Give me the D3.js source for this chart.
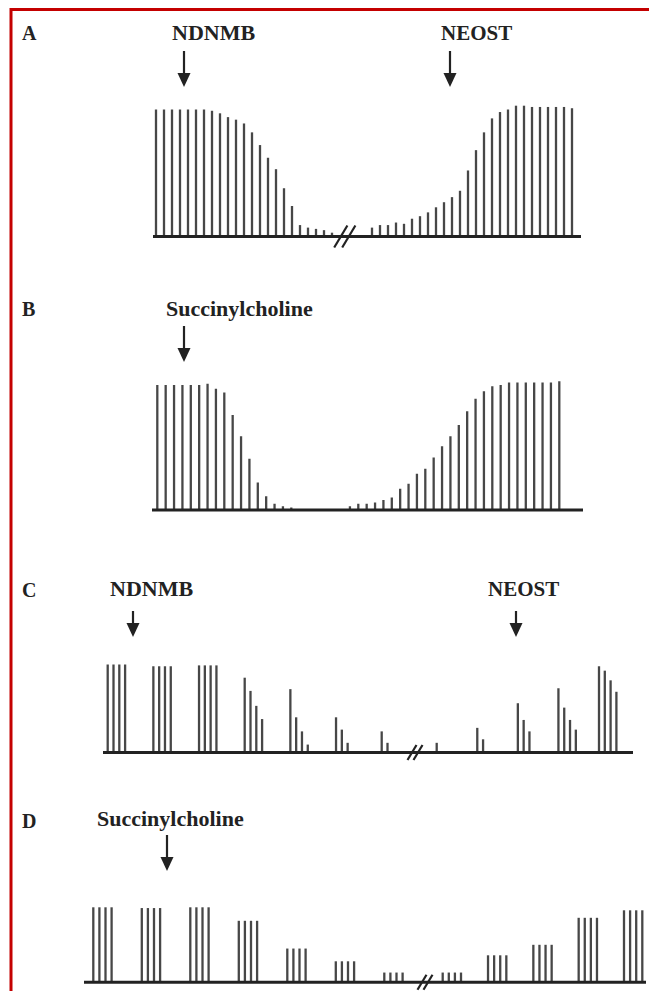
<!DOCTYPE html>
<html>
<head>
<meta charset="utf-8">
<script src="https://cdn.jsdelivr.net/npm/d3@7"></script>
<style>
  body { margin: 0; background: #fff; }
  svg { display: block; }
  text { font-family: "Liberation Serif", "Times New Roman", serif; font-weight: bold; fill: #222; }
</style>
</head>
<body>
<svg id="fig" width="649" height="991"></svg>
<script>
// A: single twitch, NDNMB block then NEOST reversal (fraction of control)
const aBefore = [1, 1, 1, 1, 1, 1, 1, 0.99, 0.97, 0.94, 0.92, 0.89, 0.82, 0.72, 0.62, 0.53, 0.38, 0.24, 0.09, 0.07, 0.06, 0.05, 0.03];
const aGap = 4;
const aAfter = [0.07, 0.09, 0.09, 0.11, 0.10, 0.14, 0.16, 0.19, 0.23, 0.27, 0.31, 0.36, 0.52, 0.68, 0.82, 0.93, 0.98, 1.0, 1.03, 1.03, 1.02, 1.02, 1.02, 1.02, 1.02, 1.01];

// B: single twitch, succinylcholine
const bBefore = [1, 1, 1, 1, 1, 1, 1.01, 0.97, 0.94, 0.76, 0.59, 0.41, 0.22, 0.11, 0.05, 0.03, 0.02];
const bGap = 6;
const bAfter = [0.03, 0.05, 0.05, 0.06, 0.08, 0.10, 0.17, 0.21, 0.29, 0.33, 0.42, 0.51, 0.59, 0.68, 0.79, 0.89, 0.95, 0.99, 1.0, 1.02, 1.02, 1.02, 1.02, 1.02, 1.02, 1.03];

// C: train-of-four, NDNMB then NEOST (fade)
const cBefore = [
  [1, 1, 1, 1], [0.98, 0.98, 0.98, 0.98], [0.99, 0.99, 0.99, 0.99],
  [0.85, 0.70, 0.53, 0.38], [0.72, 0.40, 0.24, 0.09], [0.40, 0.26, 0.11, 0], [0.24, 0.11, 0, 0]
];
const cAfter = [
  [0.11, 0, 0, 0], [0.28, 0.15, 0, 0], [0.56, 0.37, 0.24, 0], [0.73, 0.51, 0.37, 0.26], [0.98, 0.93, 0.82, 0.69]
];

// D: train-of-four, succinylcholine (no fade)
const dBefore = [1.0, 0.99, 1.0, 0.82, 0.45, 0.28, 0.13];
const dAfter = [0.13, 0.36, 0.50, 0.86, 0.96];

const svg = d3.select("#fig");
const ink = "#222";
const barColor = "#474747";

svg.append("rect").attr("width", 649).attr("height", 991).attr("fill", "#fff");
svg.append("path")
  .attr("d", "M11,991V9.5H649")
  .attr("fill", "none")
  .attr("stroke", "#c40000")
  .attr("stroke-width", 3);

function baseline(x0, x1, y) {
  svg.append("line")
    .attr("x1", x0).attr("x2", x1).attr("y1", y).attr("y2", y)
    .attr("stroke", ink).attr("stroke-width", 3);
}

function breakMark(x, y, h, sep) {
  [-sep, sep].forEach(dx => {
    svg.append("line")
      .attr("x1", x + dx - h * 0.3).attr("y1", y + h / 2)
      .attr("x2", x + dx + h * 0.3).attr("y2", y - h / 2)
      .attr("stroke", ink).attr("stroke-width", 2.2);
  });
}

function arrow(x, y1, y2) {
  svg.append("line")
    .attr("x1", x).attr("x2", x).attr("y1", y1).attr("y2", y2 - 12)
    .attr("stroke", ink).attr("stroke-width", 2.2);
  svg.append("path")
    .attr("d", `M${x - 6.5},${y2 - 14}L${x + 6.5},${y2 - 14}L${x},${y2}Z`)
    .attr("fill", ink);
}

function label(txt, x, y, size) {
  svg.append("text").attr("x", x).attr("y", y)
    .style("font-size", size + "px").text(txt);
}

function bars(data, x, y) {
  svg.append("g").selectAll("line")
    .data(data.filter(d => d.v > 0))
    .join("line")
    .attr("x1", d => x(d.i)).attr("x2", d => x(d.i))
    .attr("y1", y(0)).attr("y2", d => y(d.v))
    .attr("stroke", barColor).attr("stroke-width", 2.3);
}

// single twitch panel
function singleTwitch(before, gap, after, o) {
  const vals = before.concat(d3.range(gap).map(() => 0), after)
    .map((v, i) => ({ i, v }));
  const x = d3.scaleLinear().domain([0, vals.length - 1]).range([o.x0, o.x1]);
  const y = d3.scaleLinear().domain([0, 1]).range([o.base, o.base - o.h]);
  bars(vals, x, y);
  baseline(o.l, o.r, o.base);
  if (o.brk) breakMark(x(before.length + gap / 2 - 1.4), o.base, 22, 4);
}

// train-of-four panel
function trainOfFour(before, after, o) {
  const y = d3.scaleLinear().domain([0, 1]).range([o.base, o.base - o.h]);
  const pulse = d3.scaleLinear().domain([0, 3]).range([0, o.pw * 3]);
  const xl = d3.scaleLinear().domain([0, before.length - 1]).range(o.left);
  const xr = d3.scaleLinear().domain([0, after.length - 1]).range(o.right);
  const flat = [];
  before.forEach((g, k) => g.forEach((v, p) => flat.push({ i: xl(k) + pulse(p), v })));
  after.forEach((g, k) => g.forEach((v, p) => flat.push({ i: xr(k) + pulse(p), v })));
  bars(flat, d => d, y);
  baseline(o.l, o.r, o.base);
  breakMark(o.brk, o.base, 15, 3);
}

// Panel A
label("A", 22, 40, 20);
label("NDNMB", 172, 40, 22);
label("NEOST", 441, 40, 21);
arrow(184, 51, 87);
arrow(450, 51, 87);
singleTwitch(aBefore, aGap, aAfter, { x0: 156, x1: 572, base: 236.5, h: 127, l: 153, r: 581, brk: true });

// Panel B
label("B", 22, 316, 20);
label("Succinylcholine", 166, 316, 22);
arrow(184, 326, 362);
singleTwitch(bBefore, bGap, bAfter, { x0: 157.3, x1: 559.3, base: 510, h: 125, l: 152, r: 583, brk: false });

// Panel C
label("C", 22, 597, 20);
label("NDNMB", 110, 596, 22);
label("NEOST", 488, 596, 21);
arrow(133, 611, 637);
arrow(516, 611, 637);
trainOfFour(cBefore, cAfter, { left: [107.7, 381.7], right: [436.7, 599], pw: 5.8, base: 752.5, h: 88, l: 103, r: 633, brk: 415 });

// Panel D
label("D", 22, 828, 20);
label("Succinylcholine", 97, 826, 22);
arrow(167, 835, 871);
trainOfFour(dBefore.map(v => [v, v, v, v]), dAfter.map(v => [v, v, v, v]),
  { left: [93.3, 384.3], right: [442.7, 624], pw: 6.1, base: 982.3, h: 75, l: 84, r: 646, brk: 425 });
</script>
</body>
</html>
